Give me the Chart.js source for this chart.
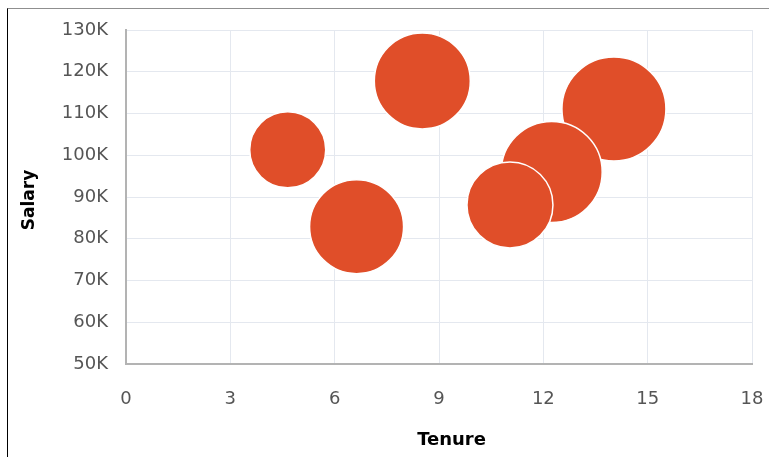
<!DOCTYPE html>
<html>
<head>
<meta charset="utf-8">
<script src="https://cdn.jsdelivr.net/npm/chart.js@4/dist/chart.umd.min.js"></script>
<style>
  html, body { margin: 0; padding: 0; background: #fff; }
  #frame { position: absolute; left: 7px; top: 8px; width: 762px; height: 449px;
    border-top: 1px solid #8f8f8f; border-left: 1px solid #000; box-sizing: border-box; }
  #chart { position: absolute; left: 0; top: 0; }
</style>
</head>
<body>
<div id="frame"></div>
<canvas id="chart" width="769" height="457"></canvas>
<script>
// one bubble per employee group
var tenure = [4.65, 6.63, 8.52, 14.03, 12.24, 11.04];
var salary = [101300, 82900, 117800, 111100, 96000, 88100];
var bubbleSize = [38, 47, 48, 52, 50.5, 43];

var xTicks = [0, 3, 6, 9, 12, 15, 18];
var yTicks = [50000, 60000, 70000, 80000, 90000, 100000, 110000, 120000, 130000];

var points = tenure.map(function (t, i) {
  return { x: t, y: salary[i], r: bubbleSize[i] };
});

var tickFont = { family: 'DejaVu Sans', size: 18 };

function noPad(s) {
  s.paddingTop = 0; s.paddingBottom = 0; s.paddingLeft = 0; s.paddingRight = 0;
}

new Chart(document.getElementById('chart').getContext('2d'), {
  type: 'bubble',
  data: {
    datasets: [{
      label: 'Employees',
      data: points,
      backgroundColor: '#e04e29',
      borderColor: '#ffffff',
      borderWidth: 1.5,
      clip: false
    }]
  },
  options: {
    responsive: false,
    animation: false,
    events: [],
    layout: { autoPadding: false, padding: { left: 0, top: 30, right: 17, bottom: 0 } },
    plugins: { legend: { display: false }, tooltip: { enabled: false } },
    scales: {
      x: {
        type: 'linear',
        min: xTicks[0],
        max: xTicks[xTicks.length - 1],
        afterBuildTicks: function (s) { s.ticks = xTicks.map(function (v) { return { value: v }; }); },
        afterFit: function (s) { s.height = 93; noPad(s); },
        grid: { color: '#e4e8ef', lineWidth: 1, drawTicks: false },
        border: { color: '#b3b3b3', width: 2 },
        ticks: { font: tickFont, color: '#555', padding: 25, maxRotation: 0 },
        // leading spaces nudge the title right, as in the original
        title: { display: true, text: '    Tenure', font: { family: 'DejaVu Sans', size: 18, weight: 'bold' },
          color: '#000', padding: { top: 0, bottom: 6 } }
      },
      y: {
        type: 'linear',
        min: yTicks[0],
        max: yTicks[yTicks.length - 1],
        afterBuildTicks: function (s) { s.ticks = yTicks.map(function (v) { return { value: v }; }); },
        afterFit: function (s) { s.width = 126; noPad(s); },
        grid: { color: '#e4e8ef', lineWidth: 1, drawTicks: false },
        border: { color: '#b3b3b3', width: 2 },
        ticks: {
          font: tickFont, color: '#555', padding: 18,
          callback: function (v) { return (v / 1000) + 'K'; }
        },
        title: { display: true, text: 'Salary ', font: { family: 'DejaVu Sans', size: 17, weight: 'bold' },
          color: '#000', padding: { top: 19, bottom: 0 } }
      }
    }
  }
});
</script>
</body>
</html>
